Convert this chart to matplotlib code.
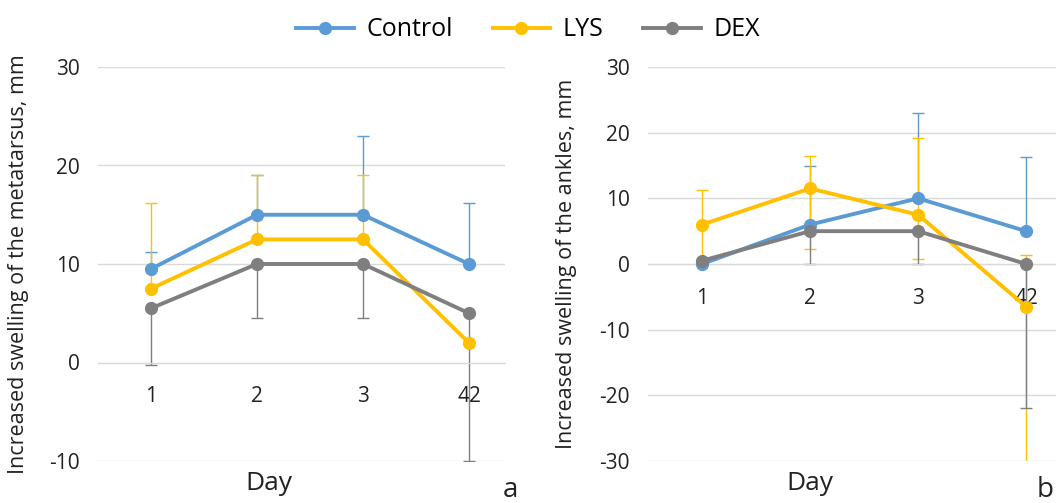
import matplotlib
matplotlib.use('Agg')
import matplotlib.pyplot as plt
from matplotlib.lines import Line2D

plt.rcParams['font.family'] = ['Open Sans', 'DejaVu Sans']
plt.rcParams['axes.unicode_minus'] = False

days = ['1', '2', '3', '42']
series = ['Control', 'LYS', 'DEX']
colors = {'Control': '#5B9BD5', 'LYS': '#FFC000', 'DEX': '#7F7F7F'}

# panel a - metatarsus
meta_vals = {
    'Control': [9.5, 15, 15, 10],
    'LYS': [7.5, 12.5, 12.5, 2],
    'DEX': [5.5, 10, 10, 5],
}
# (lower, upper) error lengths
meta_err = {
    'Control': ([0, 0, 0, 0], [1.7, 4, 8, 6.2]),
    'LYS': ([0, 0, 0, 0], [8.7, 6.5, 6.5, 0]),
    'DEX': ([5.8, 5.5, 5.5, 15], [0, 0, 0, 0]),
}

# panel b - ankles
ankle_vals = {
    'Control': [0, 6, 10, 5],
    'LYS': [6, 11.5, 7.5, -6.5],
    'DEX': [0.5, 5, 5, 0],
}
ankle_err = {
    'Control': ([0, 0, 0, 0], [0, 9, 13, 11.3]),
    'LYS': ([5.2, 9.2, 6.8, 30], [5.2, 5, 11.7, 7.8]),
    'DEX': ([0, 5, 5, 22], [0, 0, 0, 0]),
}

W, H = 1056, 503
fig = plt.figure(figsize=(W / 100, H / 100), dpi=100)


def px_axes(left, right, top, bottom):
    return fig.add_axes([left / W, 1 - bottom / H, (right - left) / W, (bottom - top) / H])


ax1 = px_axes(98, 505, 67, 461)
ax2 = px_axes(648, 1064, 67, 461)

panels = [
    (ax1, meta_vals, meta_err, (-10, 30), 'Increased swelling of the metatarsus, mm', 3.34),
    (ax2, ankle_vals, ankle_err, (-30, 30), 'Increased swelling of the ankles, mm', 3.35),
]

x = list(range(len(days)))
for ax, vals, errs, ylim, ylabel, xmax in panels:
    for s in series:
        lo, hi = errs[s]
        ax.errorbar(x, vals[s], yerr=[lo, hi], fmt='none', ecolor=colors[s],
                    elinewidth=1, capsize=4, capthick=1, zorder=2)
    for s in series:
        ax.plot(x, vals[s], color=colors[s], lw=2.8, marker='o', ms=8.5, zorder=3)
    ax.set_ylim(*ylim)
    ax.set_xlim(-0.5, xmax)
    ax.set_yticks(range(ylim[0], ylim[1] + 1, 10))
    ax.grid(axis='y', color='#d9d9d9', lw=1)
    ax.set_axisbelow(True)
    for side in ['top', 'right', 'left']:
        ax.spines[side].set_visible(False)
    ax.spines['bottom'].set_position(('data', 0))
    ax.spines['bottom'].set_color('#d9d9d9')
    ax.set_xticks(x)
    ax.set_xticklabels(days)
    ax.tick_params(axis='x', length=0, pad=17, labelsize=15, colors='#222222')
    ax.tick_params(axis='y', length=0, pad=13, labelsize=15, colors='#222222')
    ax.set_ylabel(ylabel, fontsize=15.5, color='#222222')
    ax.set_xlabel('Day', fontsize=19, color='#222222')
    ax.xaxis.set_label_coords(0.42, -0.025, transform=ax.transAxes)
    ax.xaxis.label.set_verticalalignment('top')

ax2.xaxis.set_label_coords(0.39, -0.025, transform=ax2.transAxes)
ax1.yaxis.set_label_coords(-0.17, 0.5)
ax2.yaxis.set_label_coords(-0.17, 0.5)

fig.text(510 / W, 1 - 490 / H, 'a', fontsize=20, ha='center', va='center', color='#222222')
fig.text(1054 / W, 1 - 490 / H, 'b', fontsize=20, ha='right', va='center', color='#222222')

handles = [Line2D([0], [0], color=colors[s], lw=2.8, marker='o', ms=8.5) for s in series]
fig.legend(handles, series, loc='center', bbox_to_anchor=(528 / W, 1 - 30 / H), ncol=3,
           frameon=False, fontsize=18, handlelength=2.3, columnspacing=1.6, handletextpad=0.5)

fig.savefig('out.png', dpi=100)
